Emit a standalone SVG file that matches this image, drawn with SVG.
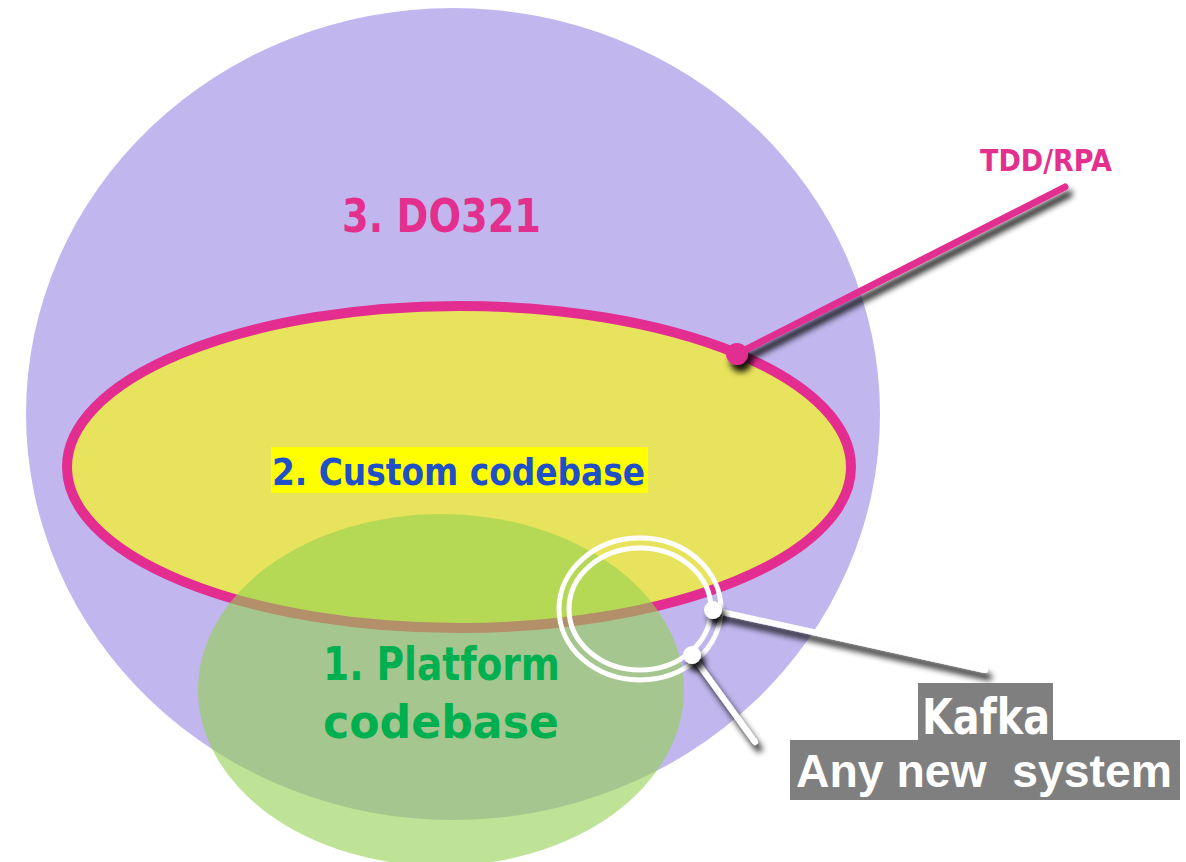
<svg xmlns="http://www.w3.org/2000/svg" width="1186" height="862" viewBox="0 0 1186 862">
  <style>
    .lbl { font-family: "DejaVu Sans", "Liberation Sans", sans-serif; font-weight: bold; }
    .lbl2 { font-family: "Liberation Sans", Arial, sans-serif; font-weight: bold; }
    .pink { fill: #e3308f; }
    .blue { fill: #2050c8; }
    .green { fill: #00b050; }
    .white { fill: #ffffff; }
    .wline { stroke: #ffffff; stroke-width: 6; stroke-linecap: round; fill: none; }
    .ring { stroke: #ffffff; stroke-width: 5; fill: none; }
  </style>
  <defs>
    <filter id="shadow" x="-20%" y="-20%" width="140%" height="160%">
      <feGaussianBlur in="SourceAlpha" stdDeviation="3"/>
      <feOffset dx="4" dy="7" result="b"/>
      <feComponentTransfer><feFuncA type="linear" slope="0.9"/></feComponentTransfer>
      <feMerge><feMergeNode/><feMergeNode in="SourceGraphic"/></feMerge>
    </filter>
  </defs>
  <rect width="1186" height="862" fill="#ffffff"/>

  <g id="node-do321">
    <ellipse cx="453" cy="414" rx="427" ry="406" fill="#c1b7ee"/>
    <text class="lbl pink" x="342" y="232" font-size="46" textLength="199" lengthAdjust="spacingAndGlyphs">3. DO321</text>
  </g>

  <g id="node-custom">
    <ellipse cx="459" cy="467" rx="392" ry="161" fill="#e8e35c" stroke="#e32d91" stroke-width="10"/>
    <rect x="271" y="447" width="377" height="46" fill="#ffff00"/>
    <text class="lbl blue" x="272" y="485" font-size="38" textLength="373" lengthAdjust="spacingAndGlyphs">2. Custom codebase</text>
  </g>

  <g id="node-platform">
    <ellipse cx="441" cy="690" rx="243" ry="176" fill="#92d050" fill-opacity="0.6"/>
    <text class="lbl green" x="323" y="680" font-size="47" textLength="237" lengthAdjust="spacingAndGlyphs">1. Platform</text>
    <text class="lbl green" x="323" y="738" font-size="47" textLength="236" lengthAdjust="spacingAndGlyphs">codebase</text>
  </g>

  <g id="connectors">
    <g filter="url(#shadow)">
      <line x1="737" y1="354" x2="1065" y2="187" stroke="#e32d91" stroke-width="7" stroke-linecap="round"/>
      <circle cx="737" cy="354" r="11" fill="#e32d91"/>
    </g>
    <g filter="url(#shadow)">
      <line class="wline" x1="713" y1="610" x2="985" y2="670"/>
      <line class="wline" x1="692" y1="655" x2="755" y2="742"/>
    </g>
    <g id="magnifier">
      <ellipse class="ring" cx="640" cy="609" rx="81" ry="71"/>
      <ellipse class="ring" cx="640" cy="609" rx="71" ry="61"/>
    </g>
    <g filter="url(#shadow)">
      <circle cx="713" cy="610" r="9" fill="#ffffff"/>
      <circle cx="692" cy="655" r="9" fill="#ffffff"/>
    </g>
  </g>

  <g id="node-tdd">
    <text class="lbl pink" x="980" y="171" font-size="31" textLength="132" lengthAdjust="spacingAndGlyphs">TDD/RPA</text>
  </g>

  <g id="node-kafka">
    <rect x="918" y="683" width="135" height="57" fill="#7f7f7f"/>
    <text class="lbl white" x="922" y="734" font-size="50" textLength="128" lengthAdjust="spacingAndGlyphs">Kafka</text>
  </g>

  <g id="node-any">
    <rect x="790" y="740" width="390" height="60" fill="#7f7f7f"/>
    <text class="lbl2 white" x="796" y="787" font-size="46" textLength="376" lengthAdjust="spacingAndGlyphs" xml:space="preserve">Any new  system</text>
  </g>
</svg>
